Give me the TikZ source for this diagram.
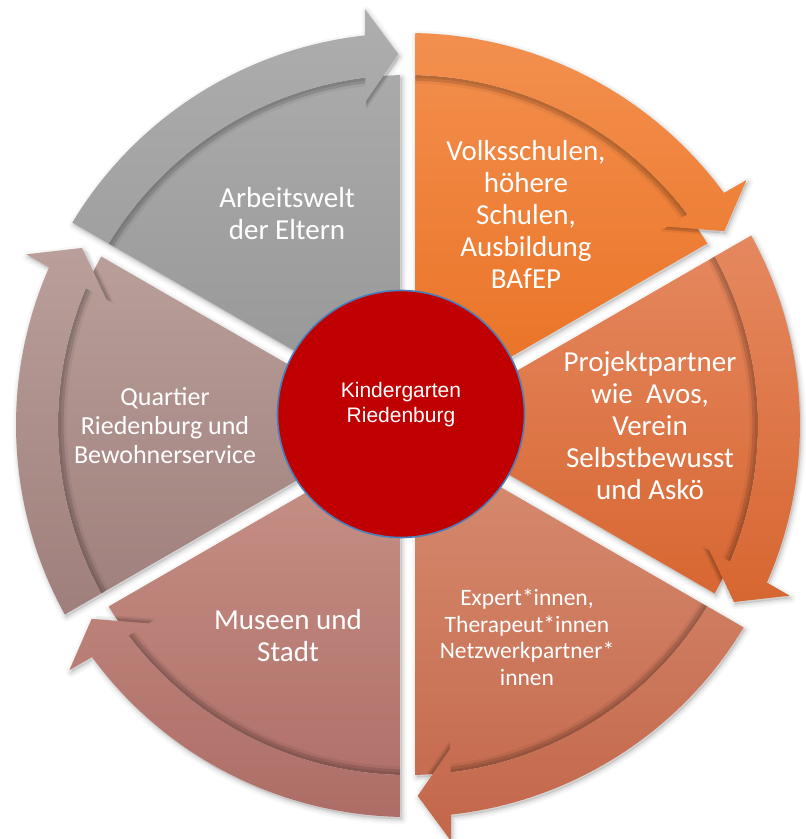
\documentclass[tikz,border=0pt]{standalone}
\usepackage{fontspec}
\setmainfont{Carlito}
\newfontfamily\centerfont{Liberation Sans}
\definecolor{grayT}{HTML}{AEAEAE}
\definecolor{grayB}{HTML}{959595}
\definecolor{volkT}{HTML}{F3904F}
\definecolor{volkB}{HTML}{E96F20}
\definecolor{projT}{HTML}{E68A62}
\definecolor{projB}{HTML}{D6642E}
\definecolor{expT}{HTML}{D88E72}
\definecolor{expB}{HTML}{C3664A}
\definecolor{musT}{HTML}{C99489}
\definecolor{musB}{HTML}{AD6D66}
\definecolor{quaT}{HTML}{BCA29D}
\definecolor{quaB}{HTML}{9E7E7A}
\definecolor{kgRed}{HTML}{C00000}
\definecolor{kgBlue}{HTML}{4A7EBB}
\def\whg{7.5}
\def\whin{350}
\def\whout{392}
\def\whmid{371}
\def\whwo{418}
\def\whwi{326}
\newcommand\setang[1]{%
  \pgfmathsetmacro\sAin{#1-asin(\whg/\whin)}%
  \pgfmathsetmacro\sAout{#1-asin(\whg/\whout)}%
  \pgfmathsetmacro\sBin{#1-60+asin(\whg/\whin)}%
  \pgfmathsetmacro\sV{#1-30}%
  \pgfmathsetmacro\sHo{#1-60+6.3}%
  \pgfmathsetmacro\sWo{#1-60+5.9}%
  \pgfmathsetmacro\sT{#1-60+1.5}%
  \pgfmathsetmacro\sWi{#1-60+7.5}%
  \pgfmathsetmacro\sHi{#1-60+7}%
}
\tikzset{
  wholeP/.style={insert path={(\sV:15) -- (\sAout:\whout)
     arc[start angle=\sAout, end angle=\sHo, radius=\whout]
     -- (\sWo:\whwo) -- (\sT:\whmid) -- (\sWi:\whwi) -- (\sHi:\whin)
     arc[start angle=\sHi, end angle=\sBin, radius=\whin] -- cycle}},
  bodyP/.style={insert path={(\sV:15) -- (\sAin:\whin)
     arc[start angle=\sAin, end angle=\sBin, radius=\whin] -- cycle}},
  bandP/.style={insert path={(\sAin:\whin) -- (\sAout:\whout)
     arc[start angle=\sAout, end angle=\sHo, radius=\whout]
     -- (\sWo:\whwo) -- (\sT:\whmid) -- (\sWi:\whwi) -- (\sHi:\whin)
     arc[start angle=\sHi, end angle=\sAin, radius=\whin] -- cycle}},
  seglabel/.style={text=white, align=center, inner sep=0pt,
     font=\fontsize{29}{32}\selectfont},
  smalllabel/.style={seglabel, font=\fontsize{26}{29}\selectfont},
  tinylabel/.style={seglabel, font=\fontsize{23.5}{26.5}\selectfont},
  hub/.style={circle, fill=kgRed, draw=kgBlue, line width=1.6pt,
     minimum size=247pt, inner sep=0pt},
}
\newcommand\sector[5]{%
  \setang{#1}%
  \begin{scope}
    \clip[bodyP];
    \shade[top color=#2, bottom color=#3] (-430,#4) rectangle (430,#5);
  \end{scope}
  \begin{scope}
    \clip[bodyP];
    \fill[black, opacity=.05, scale=0.976, bandP];
    \fill[black, opacity=.07, scale=0.984, bandP];
    \fill[black, opacity=.09, scale=0.992, bandP];
  \end{scope}
  \fill[black, opacity=.05, scale=0.984, bandP];
  \begin{scope}
    \clip[bandP];
    \shade[top color=#2, bottom color=#3] (-430,#4) rectangle (430,#5);
  \end{scope}
}
\begin{document}
\begin{tikzpicture}[x=1pt, y=1pt]
\useasboundingbox (-408,-414) rectangle (398,425);
% soft drop shadows
\foreach \ang in {150,90,30,-30,-90,-150}{%
  \setang{\ang}%
  \foreach \w/\o in {10/0.03,6/0.04,3/0.05}{%
    \draw[black, opacity=\o, line width=\w, line join=round,
          shift={(1.5,-2.5)}, wholeP];
  }%
  \fill[black, opacity=.10, shift={(1.5,-2.5)}, wholeP];
}
% sectors
\sector{150}{grayT}{grayB}{420}{0}
\sector{90}{volkT}{volkB}{395}{0}
\sector{30}{projT}{projB}{210}{-200}
\sector{-30}{expT}{expB}{0}{-418}
\sector{-90}{musT}{musB}{0}{-395}
\sector{-150}{quaT}{quaB}{215}{-200}
% hub
\node[hub] (hub) at (-7,11) {};
\node[text=white, align=center, inner sep=0pt,
      font=\centerfont\fontsize{21}{25}\selectfont] (hubtext) at (-7,20)
      {Kindergarten\\Riedenburg};
% labels
\node[seglabel] (arbeit) at (-121,211) {Arbeitswelt\\der Eltern};
\node[seglabel] (volk) at (118,211) {Volksschulen,\\höhere\\Schulen,\\Ausbildung\\BAfEP};
\node[seglabel] (proj) at (242,-1) {Projektpartner\\wie\ \ Avos,\\Verein\\Selbstbewusst\\und Askö};
\node[tinylabel] (expert) at (119,-212) {Expert*innen,\\Therapeut*innen\\Netzwerkpartner*\\innen};
\node[seglabel] (museen) at (-120,-211) {Museen und\\Stadt};
\node[smalllabel] (quartier) at (-243,-1) {Quartier\\Riedenburg und\\Bewohnerservice};
\end{tikzpicture}
\end{document}
